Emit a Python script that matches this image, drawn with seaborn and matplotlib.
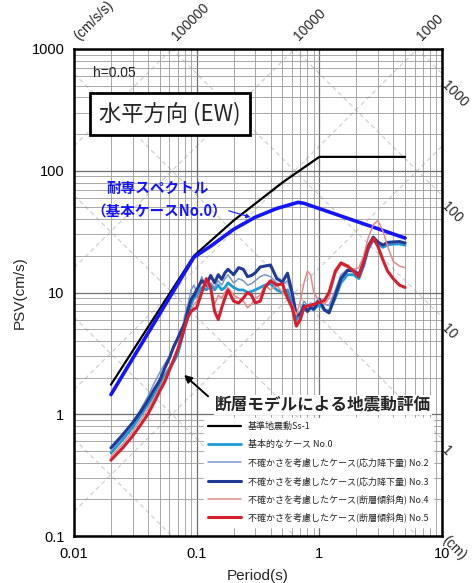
import numpy as np
import pandas as pd
import matplotlib
matplotlib.use("Agg")
import matplotlib.pyplot as plt
import seaborn as sns
from matplotlib.ticker import FixedLocator, LogLocator, NullFormatter, FuncFormatter

# ---------------- data ----------------
ss1_period = [0.02, 0.095, 0.2, 0.5, 1.0, 5.0]
ss1_psv = [1.75, 20.0, 39.0, 80.0, 130.0, 130.0]

taishin_period = [0.02, 0.095, 0.13, 0.2, 0.3, 0.45, 0.67, 0.75, 5.0]
taishin_psv = [1.45, 19.5, 24.0, 33.0, 41.5, 49.0, 55.0, 54.0, 28.0]

period = [0.02, 0.025, 0.03, 0.035, 0.04, 0.045, 0.05, 0.055, 0.06, 0.065,
          0.07, 0.075, 0.08, 0.085, 0.09, 0.095, 0.1, 0.11, 0.12, 0.13,
          0.14, 0.15, 0.16, 0.17, 0.18, 0.2, 0.22, 0.24, 0.26, 0.28,
          0.3, 0.33, 0.36, 0.4, 0.45, 0.5, 0.55, 0.6, 0.65, 0.7,
          0.75, 0.8, 0.85, 0.9, 1.0, 1.1, 1.2, 1.35, 1.5, 1.7,
          1.9, 2.1, 2.3, 2.5, 2.75, 3.0, 3.3, 3.6, 4.0, 4.5, 5.0]

case0 = [0.48, 0.62, 0.78, 0.98, 1.2, 1.45, 1.75, 2.1, 2.4, 2.7,
         3.1, 4.0, 5.2, 6.5, 8.0, 9.0, 9.5, 11.0, 10.5, 11.5,
         10.5, 11.5, 10.5, 11.0, 12.0, 11.0, 10.5, 10.5, 10.0, 10.2,
         10.5, 11.0, 11.5, 11.8, 10.5, 10.0, 10.5, 8.0, 6.0, 6.5,
         7.5, 7.0, 7.5, 7.2, 8.0, 7.2, 7.0, 9.0, 12.0, 14.0,
         14.0, 13.0, 16.5, 22.5, 27.0, 25.0, 23.5, 24.5, 25.0, 25.0, 24.5]

case2 = [0.5, 0.66, 0.85, 1.1, 1.4, 1.8, 2.2, 2.6, 3.0, 3.5,
         4.0, 4.6, 6.5, 8.0, 10.5, 11.5, 10.0, 13.5, 11.0, 12.0,
         11.0, 12.5, 11.5, 13.0, 14.0, 12.0, 13.0, 12.5, 11.5, 11.8,
         12.5, 13.5, 14.0, 13.5, 12.0, 11.5, 12.5, 9.0, 6.5, 7.0,
         8.5, 7.8, 8.2, 8.0, 9.0, 8.0, 7.8, 10.5, 14.0, 15.5,
         15.5, 14.5, 18.5, 24.5, 28.0, 25.5, 24.0, 25.0, 25.5, 25.5, 25.0]

case3 = [0.53, 0.68, 0.85, 1.05, 1.3, 1.6, 1.9, 2.4, 2.9, 3.6,
         4.2, 4.9, 5.6, 7.2, 8.8, 9.5, 10.5, 12.5, 11.5, 13.8,
         12.0, 14.0, 12.8, 14.5, 15.5, 14.0, 16.0, 15.5, 13.5, 13.8,
         14.5, 16.2, 16.5, 16.8, 13.0, 12.2, 14.4, 10.0, 6.5, 6.6,
         7.8, 7.0, 7.6, 7.3, 8.8, 7.2, 6.8, 9.5, 13.0, 15.2,
         15.0, 14.0, 17.5, 24.0, 28.5, 26.0, 24.5, 25.8, 26.0, 26.2, 25.5]

case4 = [0.45, 0.57, 0.72, 0.9, 1.1, 1.35, 1.65, 2.0, 2.4, 2.9,
         3.4, 4.2, 5.0, 6.0, 7.0, 8.0, 8.5, 10.5, 12.0, 10.5,
         8.0, 9.5, 9.0, 10.0, 11.0, 9.5, 9.0, 8.5, 7.5, 8.0,
         9.0, 9.5, 11.5, 10.5, 11.5, 10.0, 9.0, 8.0, 6.5, 8.5,
         12.0, 15.0, 14.0, 10.0, 8.5, 8.0, 9.0, 14.0, 17.0, 16.0,
         15.5, 16.0, 20.0, 28.0, 36.0, 39.0, 32.0, 24.0, 18.0, 16.5, 16.0]

case5 = [0.42, 0.53, 0.66, 0.82, 1.0, 1.25, 1.55, 1.85, 2.3, 2.8,
         3.4, 4.2, 5.2, 6.3, 7.0, 7.3, 7.5, 10.0, 13.0, 11.0,
         7.0, 6.0, 7.5, 9.0, 10.5, 8.5, 8.2, 9.0, 10.0, 9.5,
         8.2, 8.5, 11.0, 12.5, 11.5, 11.8, 9.0, 7.5, 5.3, 6.0,
         7.5, 7.8, 7.8, 8.0, 8.3, 8.6, 10.0, 15.0, 17.5, 16.5,
         15.0, 13.5, 18.0, 23.5, 28.0, 24.0, 18.5, 15.0, 13.0, 11.5, 11.0]

legend_labels = ["基準地震動Ss-1", "基本的なケース No.0",
                 "不確かさを考慮したケース(応力降下量) No.2",
                 "不確かさを考慮したケース(応力降下量) No.3",
                 "不確かさを考慮したケース(断層傾斜角) No.4",
                 "不確かさを考慮したケース(断層傾斜角) No.5"]

accel_labels = [100000, 10000, 1000]
disp_labels = [1000, 100, 10, 1]

# ---------------- style ----------------
sns.set_theme(style="white")
plt.rcParams["font.family"] = ["Liberation Sans", "Noto Sans CJK JP"]
plt.rcParams["axes.unicode_minus"] = False
JP = ["Noto Sans CJK JP", "DejaVu Sans"]

fig = plt.figure(figsize=(4.74, 5.83), dpi=100)
ax = fig.add_axes([74 / 474, 1 - 536 / 583, 368 / 474, 487 / 583])
ax.set_xscale("log")
ax.set_yscale("log")
ax.set_xlim(0.01, 10)
ax.set_ylim(0.1, 1000)

# grid
ax.xaxis.set_minor_locator(LogLocator(base=10, subs=np.arange(2, 10)))
ax.yaxis.set_minor_locator(LogLocator(base=10, subs=np.arange(2, 10)))
ax.grid(which="major", color="#6e6e6e", lw=0.9, zorder=0)
ax.grid(which="minor", color="#9a9a9a", lw=0.6, zorder=0)

# tripartite diagonal lines
tt = np.logspace(-2, 1, 50)
for A in [1e2, 1e3, 1e4, 1e5, 1e6]:
    ax.plot(tt, A * tt / (2 * np.pi), color="#cccccc", lw=0.8, ls=(0, (4, 3)), zorder=0.5)
for D in [1e-3, 1e-2, 1e-1, 1, 10, 100, 1000]:
    ax.plot(tt, 2 * np.pi * D / tt, color="#cccccc", lw=0.8, ls=(0, (4, 3)), zorder=0.5)

# spectra
sns.lineplot(x=ss1_period, y=ss1_psv, ax=ax, color="black", lw=1.6, estimator=None, sort=False, zorder=3)
sns.lineplot(x=taishin_period, y=taishin_psv, ax=ax, color="#1414ff", lw=2.6, estimator=None, sort=False, zorder=3)

series = [
    (case0, "#1e9ad6", 2.0),
    (case2, "#7a97cc", 1.1),
    (case3, "#1f3b95", 2.2),
    (case4, "#e48a8a", 1.1),
    (case5, "#d41f2e", 2.2),
]
handles = [ax.get_lines()[-2]]
for vals, col, lw in series:
    sns.lineplot(x=period, y=vals, ax=ax, color=col, lw=lw, estimator=None, sort=False, zorder=4)
    handles.append(ax.get_lines()[-1])

# ticks
ax.xaxis.set_major_locator(FixedLocator([0.01, 0.1, 1, 10]))
ax.yaxis.set_major_locator(FixedLocator([0.1, 1, 10, 100, 1000]))
fmt = FuncFormatter(lambda v, p: "%g" % v)
ax.xaxis.set_major_formatter(fmt)
ax.yaxis.set_major_formatter(fmt)
ax.xaxis.set_minor_formatter(NullFormatter())
ax.yaxis.set_minor_formatter(NullFormatter())
ax.tick_params(axis="both", which="both", direction="in", length=0, labelsize=10.5, colors="black")
ax.tick_params(axis="x", pad=8)
ax.tick_params(axis="y", pad=7)
for s in ax.spines.values():
    s.set_color("black")
    s.set_linewidth(1.8)

ax.set_xlabel("Period(s)", fontsize=11, labelpad=6)
ax.set_ylabel("PSV(cm/s)", fontsize=11, labelpad=3)

# tripartite labels
for A in accel_labels:
    t_top = 2 * np.pi * 1000 / A
    ax.annotate(str(A), xy=(t_top, 1000), xytext=(5, 4), textcoords="offset points",
                rotation=45, ha="left", va="bottom", rotation_mode="anchor",
                fontsize=10, annotation_clip=False)
ax.annotate("(cm/s/s)", xy=(0.0, 1.0), xycoords="axes fraction", xytext=(5, 4),
            textcoords="offset points", rotation=45, ha="left", va="bottom",
            rotation_mode="anchor", fontsize=10, annotation_clip=False)
for D in disp_labels:
    p_right = 2 * np.pi * D / 10
    ax.annotate(str(D), xy=(10, p_right), xytext=(5, -3), textcoords="offset points",
                rotation=-45, ha="left", va="top", rotation_mode="anchor",
                fontsize=10, annotation_clip=False)
ax.annotate("(cm)", xy=(1.0, 0.0), xycoords="axes fraction", xytext=(5, 2),
            textcoords="offset points", rotation=-45, ha="left", va="top",
            rotation_mode="anchor", fontsize=10, annotation_clip=False)

# texts
ax.text(0.052, 0.951, "h=0.05", transform=ax.transAxes, fontsize=10, ha="left", va="center", zorder=6)
ax.text(0.261, 0.8665, "水平方向 (EW)", transform=ax.transAxes, fontsize=16, family=JP,
        ha="center", va="center", zorder=6,
        bbox=dict(boxstyle="square,pad=0.4", fc="white", ec="black", lw=2))

ax.text(0.228, 0.7146, "耐専スペクトル", transform=ax.transAxes, fontsize=10.5, family=JP,
        fontweight="bold", color="#1414ff", ha="center", va="center", zorder=6)
ax.text(0.232, 0.669, "（基本ケースNo.0）", transform=ax.transAxes, fontsize=10.5, family=JP,
        fontweight="bold", color="#1414ff", ha="center", va="center", zorder=6)
ax.annotate("", xy=(0.288, 41.0), xytext=((226 - 74) / 368, 1 - (210 - 49) / 487),
            textcoords="axes fraction",
            arrowprops=dict(arrowstyle="-|>", color="#1414ff", lw=0.8, mutation_scale=6),
            zorder=6)

ax.annotate("", xy=(0.076, 2.18), xytext=(0.37, 0.283), textcoords="axes fraction",
            arrowprops=dict(arrowstyle="-|>", color="black", lw=1.4, mutation_scale=11),
            zorder=6)
ax.text(0.383, 0.269, "断層モデルによる地震動評価", transform=ax.transAxes, fontsize=12,
        family=JP, fontweight="bold", ha="left", va="center", zorder=6,
        bbox=dict(boxstyle="square,pad=0.05", fc="white", ec="none"))

leg = ax.legend(handles, legend_labels, loc="lower right", bbox_to_anchor=(1.0, 0.0),
                prop={"family": JP, "size": 6.5}, handlelength=3.6, handletextpad=0.8,
                labelspacing=0.95, borderaxespad=1.0, borderpad=0.5,
                frameon=True, fancybox=False, framealpha=1, facecolor="white",
                edgecolor="white")
leg.set_zorder(7)

fig.savefig("out.png", dpi=100, facecolor="white")
